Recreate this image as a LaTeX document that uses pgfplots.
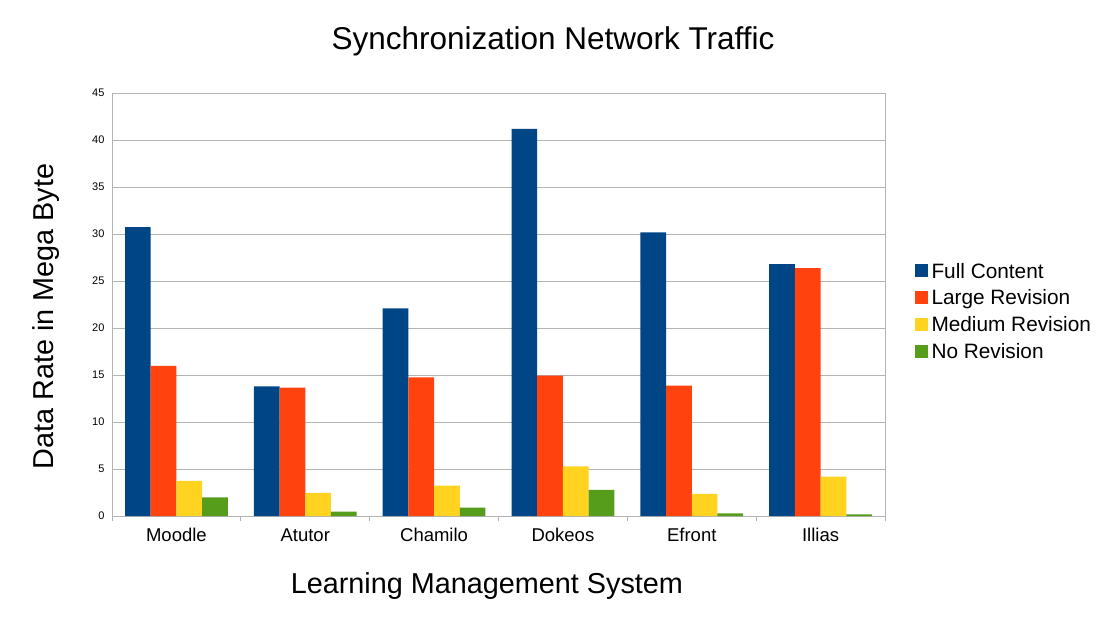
\documentclass[border=0pt]{standalone}
\usepackage{fontspec}
\setmainfont{Liberation Sans}
\usepackage{pgfplots}
\pgfplotsset{compat=1.18}
\definecolor{cFull}{HTML}{004586}
\definecolor{cLarge}{HTML}{FF420E}
\definecolor{cMed}{HTML}{FFD320}
\definecolor{cNo}{HTML}{579D1C}
\definecolor{gridc}{HTML}{B3B3B3}
\begin{document}
\begin{tikzpicture}
\useasboundingbox (0pt,0pt) rectangle (1107pt,624pt);
\begin{axis}[
  at={(112pt,108pt)}, anchor=south west,
  scale only axis, width=773pt, height=423pt,
  ybar=0pt, bar width=25.7pt,
  xmin=-0.5, xmax=5.5, ymin=0, ymax=45,
  xtick={0,1,2,3,4,5},
  xticklabels={Moodle,Atutor,Chamilo,Dokeos,Efront,Illias},
  minor xtick={-0.5,0.5,1.5,2.5,3.5,4.5,5.5},
  ytick={0,5,...,45},
  tick pos=left,
  major tick length=0pt,
  minor tick length=5pt,
  tick align=outside,
  tick style={gridc, line width=0.8pt},
  ymajorgrids, grid style={gridc, line width=0.8pt},
  axis line style={gridc, line width=0.8pt},
  /pgf/number format/assume math mode=true,
  yticklabel style={font=\fontsize{11}{13}\selectfont, xshift=-4pt},
  xticklabel style={font=\fontsize{18.5}{21}\selectfont, anchor=base, yshift=-25pt},
  title={Synchronization Network Traffic},
  title style={font=\fontsize{31.5}{34}\selectfont, at={(rel axis cs:0.5705,1.0898)}, anchor=base},
  xlabel={Learning Management System},
  xlabel style={font=\fontsize{28.8}{32}\selectfont, at={(rel axis cs:0.485,-0.1827)}, anchor=base},
  ylabel={Data Rate in Mega Byte},
  ylabel style={font=\fontsize{28.8}{32}\selectfont, at={(rel axis cs:-0.0759,0.4716)}, anchor=base, rotate=0},
  legend style={at={(rel axis cs:1.0379,0.483)}, anchor=west, draw=none, fill=none,
    font=\fontsize{20.8}{23}\selectfont, row sep=6.4pt, inner sep=0pt,
    /tikz/every odd column/.append style={column sep=2pt}},
  legend cell align=left,
  legend image code/.code={\fill[#1] (0pt,-6pt) rectangle (13pt,7pt);},
]
\addplot[fill=cFull, draw=none] coordinates {(0,30.74) (1,13.79) (2,22.1) (3,41.19) (4,30.17) (5,26.8)};
\addplot[fill=cLarge, draw=none] coordinates {(0,15.96) (1,13.65) (2,14.75) (3,14.93) (4,13.86) (5,26.37)};
\addplot[fill=cMed, draw=none] coordinates {(0,3.73) (1,2.45) (2,3.23) (3,5.29) (4,2.35) (5,4.19)};
\addplot[fill=cNo, draw=none] coordinates {(0,1.99) (1,0.46) (2,0.89) (3,2.77) (4,0.28) (5,0.18)};
\legend{Full Content,Large Revision,Medium Revision,No Revision}
\end{axis}
\end{tikzpicture}
\end{document}
